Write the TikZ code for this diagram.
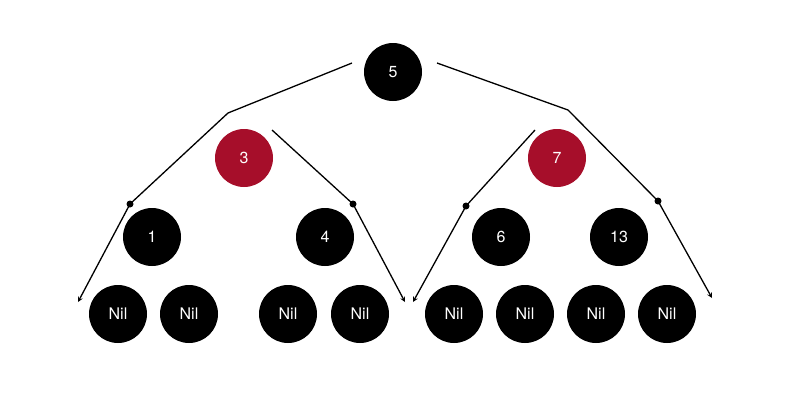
\documentclass[tikz,border=0pt]{standalone}
\usepackage{fontspec}
\setmainfont{TeX Gyre Heros}
\definecolor{rbred}{RGB}{166,14,42}
\tikzset{
  rb/.style={circle, fill=black, minimum size=58pt, inner sep=0pt, text=white, font=\fontsize{16}{16}\selectfont},
  red/.style={rb, fill=rbred},
  link/.style={line width=1.3pt, -stealth},
  dot/.style={circle, fill=black, inner sep=0pt, minimum size=7pt}
}
\begin{document}
\begin{tikzpicture}[x=1pt, y=-1pt]
            \useasboundingbox (0,0) rectangle (800,416);

            % Nodos
            \node[rb] (n5) at (393,72) {5};
            \node[red] (n3) at (244,158) {3};
            \node[red] (n7) at (557,158) {7};
            \node[rb] (n1) at (152,237) {1};
            \node[rb] (n4) at (325,237) {4};
            \node[rb] (n6) at (501,237) {6};
            \node[rb] (n13) at (619,237) {13};
            \foreach \x [count=\i] in {118,189,288,360,454,525,596,667}
                \node[rb] (nil\i) at (\x,314) {Nil};

            % Puntos de giro
            \coordinate (a1) at (352,63);
            \coordinate (b1) at (228,113);
            \node[dot] (d1) at (130,204) {};
            \coordinate (e1) at (78,302);
            \coordinate (a2) at (272,130);
            \node[dot] (d2) at (353,204) {};
            \coordinate (e2) at (405,302);
            \coordinate (a3) at (437,63);
            \coordinate (b3) at (568,110);
            \node[dot] (d3) at (658,201) {};
            \coordinate (e3) at (712,298);
            \coordinate (a4) at (535,130);
            \node[dot] (d4) at (466,206) {};
            \coordinate (e4) at (413,302);

            % Rotaciones
            \draw[link] (a1) -- (b1) -- (d1.center) -- (e1);
            \draw[link] (a2) -- (d2.center) -- (e2);
            \draw[link] (a3) -- (b3) -- (d3.center) -- (e3);
            \draw[link] (a4) -- (d4.center) -- (e4);
        \end{tikzpicture}
\end{document}
